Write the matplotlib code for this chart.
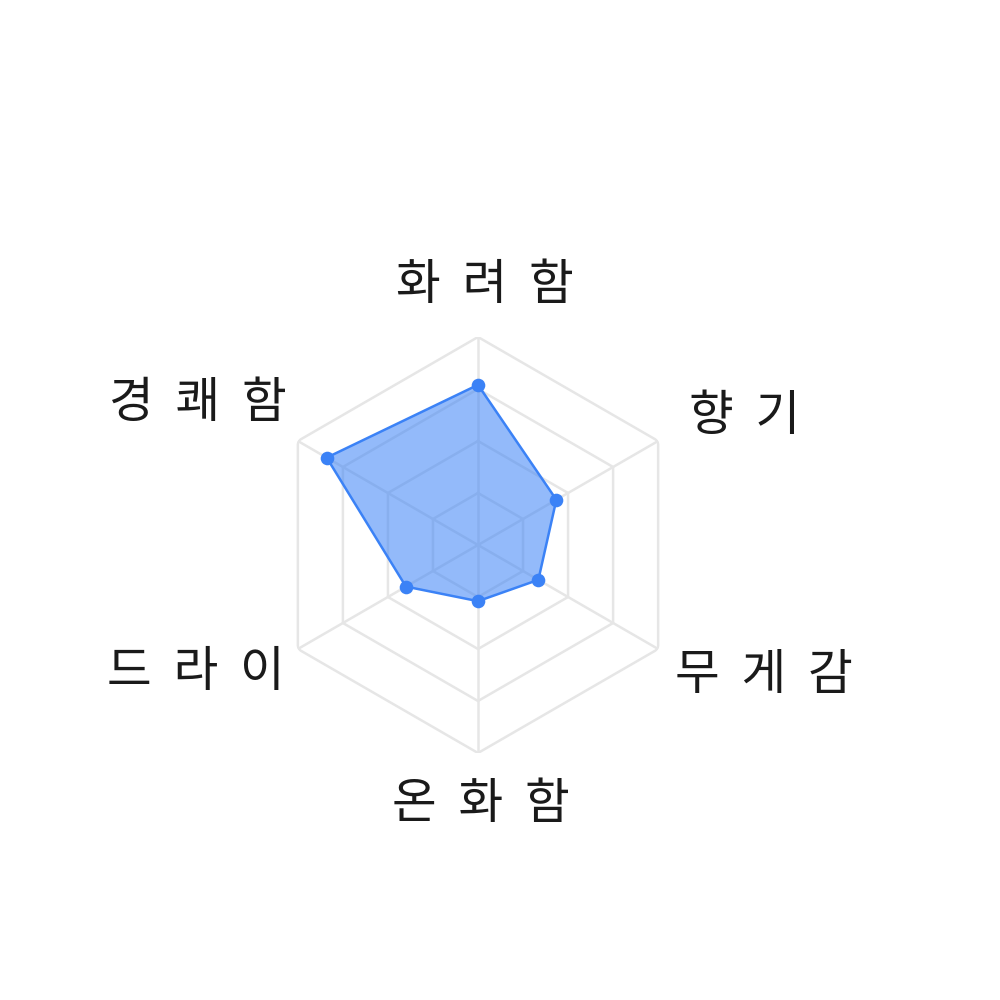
import numpy as np
import matplotlib
matplotlib.use("Agg")
import matplotlib.pyplot as plt

plt.rcParams['font.family'] = ['Noto Sans CJK KR', 'DejaVu Sans']

categories = ["화려함", "향기", "무게감", "온화함", "드라이", "경쾌함"]
values = [77, 43.5, 33.5, 27, 40, 84]
ring_levels = [25, 50, 75, 100]
r_max = 100

line_color = "#3b82f6"
grid_color = "#e6e6e6"

fig = plt.figure(figsize=(10, 10), dpi=100)
fig.patch.set_facecolor("white")
R = 0.416
ax = fig.add_axes([0.478 - R / 2, 0.455 - R / 2, R, R], projection="polar")
ax.set_theta_zero_location("N")
ax.set_theta_direction(-1)
ax.set_ylim(0, r_max)
ax.grid(False)
ax.spines["polar"].set_visible(False)
ax.set_xticks([])
ax.set_yticks([])
ax.patch.set_alpha(0)

n = len(categories)
theta = np.arange(n) * 2 * np.pi / n
theta_c = np.append(theta, theta[0])

for lv in ring_levels:
    ax.plot(theta_c, [lv] * (n + 1), color=grid_color, lw=1.8, zorder=1)
for t in theta:
    ax.plot([t, t], [0, r_max], color=grid_color, lw=1.8, zorder=1)

vals_c = np.append(values, values[0])
ax.fill(theta_c, vals_c, color=line_color, alpha=0.55, lw=0, zorder=2)
ax.plot(theta_c, vals_c, color=line_color, lw=1.8, zorder=3)
ax.plot(theta, values, "o", color=line_color, ms=9.8, mew=0, zorder=4)

label_offsets = [(7, 52), (86, 25), (106, -26), (3, -51), (-102, -23), (-100, 38)]
for t, lab, (dx, dy) in zip(theta, categories, label_offsets):
    ax.annotate("  ".join(lab), xy=(t, r_max), xytext=(dx, dy),
                textcoords="offset pixels", ha="center", va="center",
                fontsize=35, fontweight="light", color="#1a1a1a",
                annotation_clip=False)

fig.savefig("out.png", dpi=100)
